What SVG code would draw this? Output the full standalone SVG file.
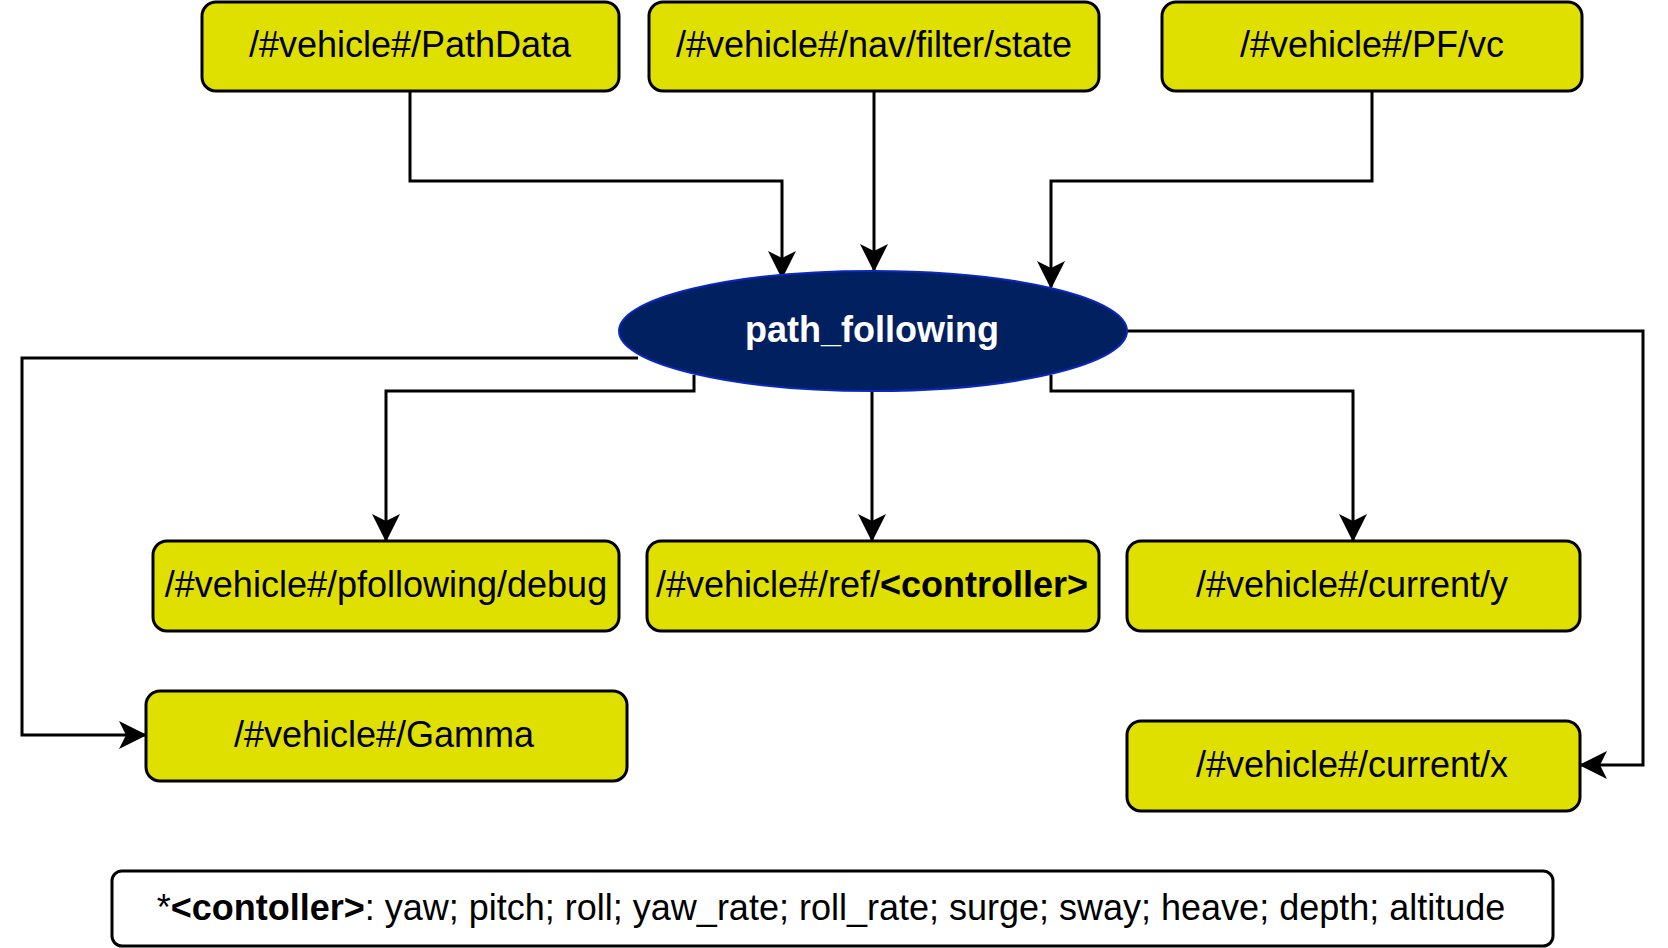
<svg xmlns="http://www.w3.org/2000/svg" width="1668" height="948" viewBox="0 0 1668 948">
<style>
.box{fill:#e0e000;stroke:#000;stroke-width:3}
.t{font-family:"Liberation Sans",Arial,sans-serif;font-size:36px;fill:#000;text-anchor:middle}
.b{font-weight:bold}
.c{fill:none;stroke:#000;stroke-width:3}
</style>
<defs>
<marker id="arr" viewBox="0 0 28 28" refX="26" refY="14" markerWidth="28" markerHeight="28" markerUnits="userSpaceOnUse" orient="auto">
<path d="M0,0 L28,14 L0,28 L7,14 Z" fill="#000"/>
</marker>
</defs>
<rect width="1668" height="948" fill="#fff"/>
<g id="connectors">
<path class="c" d="M410,91 V181 H782 V277" marker-end="url(#arr)"/>
<path class="c" d="M874,91 V270" marker-end="url(#arr)"/>
<path class="c" d="M1372,91 V181 H1051 V287" marker-end="url(#arr)"/>
<path class="c" d="M694,375 V391 H386 V540" marker-end="url(#arr)"/>
<path class="c" d="M872,391 V540" marker-end="url(#arr)"/>
<path class="c" d="M1051,375 V391 H1353 V540" marker-end="url(#arr)"/>
<path class="c" d="M638,358 H22 V735 H145" marker-end="url(#arr)"/>
<path class="c" d="M1127,331 H1643 V765 H1581" marker-end="url(#arr)"/>
</g>
<g id="pathdata">
<rect class="box" x="202" y="2" width="417" height="89" rx="14"/>
<text class="t" x="410" y="57">/#vehicle#/PathData</text>
</g>
<g id="navstate">
<rect class="box" x="649" y="2" width="450" height="89" rx="14"/>
<text class="t" x="874" y="57">/#vehicle#/nav/filter/state</text>
</g>
<g id="pfvc">
<rect class="box" x="1162" y="2" width="420" height="89" rx="14"/>
<text class="t" x="1372" y="57">/#vehicle#/PF/vc</text>
</g>
<g id="path_following">
<ellipse cx="873" cy="331" rx="254" ry="60" fill="#00205f" stroke="#0a28c0" stroke-width="2"/>
<text class="t b" x="872" y="342" style="fill:#fff">path_following</text>
</g>
<g id="debug">
<rect class="box" x="153" y="541" width="466" height="90" rx="14"/>
<text class="t" x="386" y="597">/#vehicle#/pfollowing/debug</text>
</g>
<g id="ref">
<rect class="box" x="647" y="541" width="452" height="90" rx="14"/>
<text class="t" x="872" y="597">/#vehicle#/ref/<tspan class="b">&lt;controller&gt;</tspan></text>
</g>
<g id="currenty">
<rect class="box" x="1127" y="541" width="453" height="90" rx="14"/>
<text class="t" x="1352" y="597">/#vehicle#/current/y</text>
</g>
<g id="gamma">
<rect class="box" x="146" y="691" width="481" height="90" rx="14"/>
<text class="t" x="384" y="747">/#vehicle#/Gamma</text>
</g>
<g id="currentx">
<rect class="box" x="1127" y="721" width="453" height="90" rx="14"/>
<text class="t" x="1352" y="777">/#vehicle#/current/x</text>
</g>
<g id="legend">
<rect x="112" y="871" width="1441" height="75" rx="10" fill="#fff" stroke="#000" stroke-width="3"/>
<text class="t" x="831" y="920">*<tspan class="b">&lt;contoller&gt;</tspan>: yaw; pitch; roll; yaw_rate; roll_rate; surge; sway; heave; depth; altitude</text>
</g>
</svg>
